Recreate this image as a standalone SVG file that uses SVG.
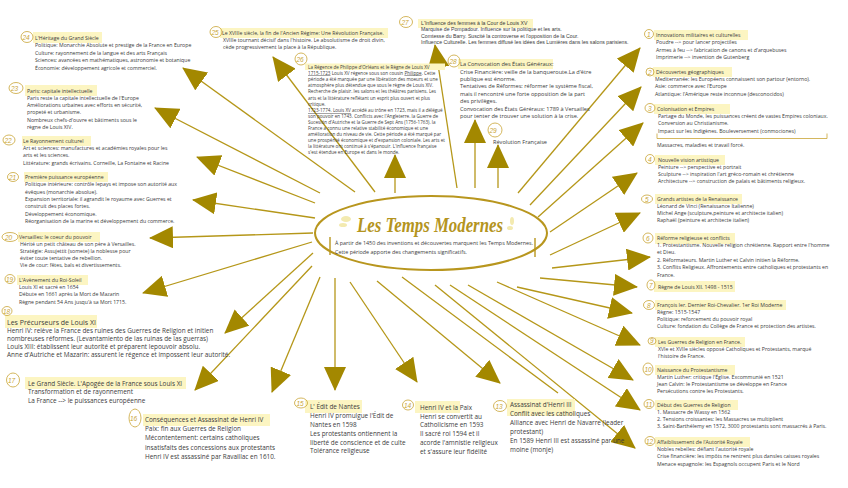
<svg xmlns="http://www.w3.org/2000/svg" width="848" height="488" viewBox="0 0 848 488">
<defs>
<marker id="ah" viewBox="0 0 24 22" refX="23" refY="11" markerWidth="24" markerHeight="22" markerUnits="userSpaceOnUse" orient="auto"><path d="M0,0 L24,11 L0,22 z" fill="#a38800"/></marker>
<style>
.t{font-family:"Open Sans","Noto Sans",sans-serif;fill:#3b3b3b}
.s{font-size:5.2px}
.m{font-size:6.4px}
.a{font-family:"Liberation Sans",Arial,sans-serif;fill:#3b3b3b;font-size:5.2px}
.r{font-size:4.6px}
.hl{fill:#fcf5c2}
.num{fill:none;stroke:#c9a536;stroke-width:0.8}
.nt{font-family:"Liberation Sans",sans-serif;font-style:italic;fill:#c9a536;font-size:6.5px}
.c line{stroke:#b59719;stroke-width:1.3}
.c .ar{marker-end:url(#ah)}
</style>
</defs>
<rect width="848" height="488" fill="#ffffff"/>

<g id="connectors" class="c">
<line class="ar" x1="355" y1="192" x2="183" y2="68"/>
<line class="ar" x1="375" y1="192" x2="273" y2="57"/>
<line class="ar" x1="395" y1="193" x2="395" y2="155"/>
<line class="ar" x1="457" y1="188" x2="435" y2="45"/>
<line class="ar" x1="475" y1="188" x2="475" y2="120"/>
<line class="ar" x1="498" y1="188" x2="498" y2="145"/>
<line class="ar" x1="518" y1="193" x2="640" y2="48"/>
<line class="ar" x1="530" y1="205" x2="641" y2="87"/>
<line class="ar" x1="538" y1="217" x2="643" y2="123"/>
<line class="ar" x1="550" y1="232" x2="637" y2="173"/>
<line class="ar" x1="550" y1="255" x2="640" y2="213"/>
<line class="ar" x1="552" y1="268" x2="650" y2="257"/>
<line class="ar" x1="540" y1="278" x2="637" y2="287"/>
<line class="ar" x1="517" y1="287" x2="632" y2="313"/>
<line class="ar" x1="497" y1="282" x2="640" y2="345"/>
<line class="ar" x1="468" y1="285" x2="633" y2="380"/>
<line class="ar" x1="450" y1="285" x2="640" y2="410"/>
<line class="ar" x1="435" y1="285" x2="635" y2="448"/>
<line x1="402" y1="277" x2="558" y2="393"/>
<line class="ar" x1="377" y1="281" x2="500" y2="383"/>
<line class="ar" x1="350" y1="282" x2="417" y2="382"/>
<line class="ar" x1="335" y1="278" x2="335" y2="390"/>
<line class="ar" x1="320" y1="277" x2="272" y2="392"/>
<line class="ar" x1="312" y1="266" x2="195" y2="390"/>
<line class="ar" x1="313" y1="253" x2="225" y2="333"/>
<line class="ar" x1="312" y1="242" x2="143" y2="293"/>
<line class="ar" x1="313" y1="233" x2="150" y2="238"/>
<line class="ar" x1="315" y1="218" x2="193" y2="200"/>
<line class="ar" x1="315" y1="203" x2="197" y2="157"/>
<line class="ar" x1="320" y1="193" x2="155" y2="108"/>
</g>

<g id="center">
<ellipse cx="431" cy="233" rx="116" ry="37" fill="#ffffff" stroke="#b8961e" stroke-width="2"/>
<ellipse cx="346" cy="219" rx="5" ry="3" fill="#f3eab0"/>
<ellipse cx="343" cy="225" rx="4" ry="2" fill="#f3eab0"/>
<ellipse cx="512" cy="221" rx="2" ry="4" fill="#f3eab0"/>
<ellipse cx="510" cy="228" rx="3" ry="2" fill="#f3eab0"/>
<text x="357" y="232" font-family="Liberation Serif,serif" font-style="italic" font-weight="bold" font-size="20" fill="#b49420" textLength="146" lengthAdjust="spacingAndGlyphs">Les Temps Modernes</text>
<line x1="330" y1="237" x2="330" y2="255" stroke="#b8961e" stroke-width="1.4"/>
<line x1="535" y1="238" x2="535" y2="257" stroke="#b8961e" stroke-width="1.4"/>
<text class="t" x="335" y="245" font-size="5.4">À partir de 1450 des inventions et découvertes marquent les Temps Modernes.</text>
<text class="t" x="335" y="253.5" font-size="5.4">Cette période apporte des changements significatifs.</text>
</g>

<g id="n24">
<rect class="hl" x="33" y="32" width="69" height="11"/>
<ellipse class="num" cx="27" cy="37" rx="6" ry="5.5"/><text class="nt" x="22.5" y="39.5">24</text>
<text class="t s" x="35" y="40" font-size="5.6">L'Héritage du Grand Siècle</text>
<text class="t s" x="35" y="47">Politique: Monarchie Absolute et prestige de la France en Europe</text>
<text class="t s" x="35" y="54.5">Culture: rayonnement de la langue et des arts Français</text>
<text class="t s" x="35" y="62">Sciences: avancées en mathématiques, astronomie et botanique</text>
<text class="t s" x="35" y="69.5">Économie: développement agricole et commerciel.</text>
</g>

<g id="n23">
<rect class="hl" x="25" y="85" width="72" height="11"/>
<ellipse class="num" cx="16" cy="88" rx="7" ry="5.5"/><text class="nt" x="11" y="90.5">23</text>
<text class="t s" x="27" y="92.5" font-size="5.6">Paris: capitale intellectuelle</text>
<text class="t s" x="27" y="99.5">Paris reste la  capitale intellectuelle de l'Europe</text>
<text class="t s" x="27" y="107">Améliorations urbaines avec efforts en sécurité,</text>
<text class="t s" x="27" y="114">propeté et urbanisme.</text>
<text class="t s" x="27" y="121.5">Nombreux chefs-d'ouvre et bâtiments sous le</text>
<text class="t s" x="27" y="129">règne de Louis XIV.</text>
</g>

<g id="n22">
<rect class="hl" x="22" y="136" width="69" height="10"/>
<ellipse class="num" cx="9" cy="140" rx="6" ry="5"/><text class="nt" x="4.5" y="142.5">22</text>
<text class="t s" x="23" y="143" font-size="5.6">Le Rayonnement culturel</text>
<text class="t s" x="23" y="149.5">Art et sciences: manufactures et académies royales pour les</text>
<text class="t s" x="23" y="157">arts et les sciences.</text>
<text class="t s" x="23" y="164.5">Littérature: grands écrivains. Corneille, La Fontaine et Racine</text>
</g>

<g id="n21">
<rect class="hl" x="24" y="172" width="84" height="10"/>
<ellipse class="num" cx="13" cy="177" rx="5.5" ry="4.5"/><text class="nt" x="9" y="179.5">21</text>
<text class="t s" x="25" y="178.5" font-size="5.6">Première puissance européenne</text>
<text class="t s" x="25" y="186">Politique intérieure: contrôle lepays et impose son autorité aux</text>
<text class="t s" x="25" y="193.5">évêques (monarchie absolue).</text>
<text class="t s" x="25" y="201">Expansion territoriale: il agrandit le royaume avec Guerres et</text>
<text class="t s" x="25" y="208">construit des places fortes.</text>
<text class="t s" x="25" y="215.5">Développement économique.</text>
<text class="t s" x="25" y="223">Réorganisation de la marine et développement du commerce.</text>
</g>

<g id="n20">
<rect class="hl" x="18" y="232" width="82" height="10"/>
<ellipse class="num" cx="10" cy="237" rx="8" ry="4.5"/><text class="nt" x="5" y="239.5">20</text>
<text class="t s" x="19" y="238.5" font-size="5.6">Versailles: le coeur du pouvoir</text>
<text class="t s" x="20" y="245.5">Hérité un petit château de son père à Versailles.</text>
<text class="t s" x="20" y="252.5">Stratégie: Assujettit (somete) la noblesse pour</text>
<text class="t s" x="20" y="260">éviter toute tentative de rebellion.</text>
<text class="t s" x="20" y="267">Vie de cour: fêtes, bals et divertissements.</text>
</g>

<g id="n19">
<rect class="hl" x="17" y="275" width="71" height="10"/>
<ellipse class="num" cx="10" cy="279" rx="5" ry="4.5"/><text class="nt" x="6" y="281.5">19</text>
<text class="t s" x="19" y="281.5" font-size="5.6">L'Avènement du Roi-Soleil</text>
<text class="t s" x="19" y="289">Louis XI et sacré en 1654</text>
<text class="t s" x="19" y="296">Débute en 1661 après la Mort de Mazarin</text>
<text class="t s" x="19" y="303.5">Règne pendant 54 Ans jusqu'à sa Mort 1715.</text>
</g>

<g id="n18">
<rect class="hl" x="5" y="315" width="92" height="13"/>
<ellipse class="num" cx="7" cy="311" rx="5" ry="4.5"/><text class="nt" x="3" y="313.5">18</text>
<text class="t" x="7" y="324.5" font-size="7">Les Précurseurs de Louis XI</text>
<text class="t m" x="7" y="333" font-size="6.6">Henri IV: relève la France  des ruines des Guerres de Religion et initien</text>
<text class="t m" x="7" y="341" font-size="6.6">nombreuses réformes. (Levantamiento de las ruinas de las guerras)</text>
<text class="t m" x="7" y="349" font-size="6.6">Louis XIII: établissent leur autorité et préparent lepouvoir absolu.</text>
<text class="t m" x="7" y="357" font-size="6.6">Anne d'Autriche et Mazarin: assurent le  régence et impossent leur autorité.</text>
</g>

<g id="n17">
<rect class="hl" x="25" y="377" width="161" height="12"/>
<ellipse class="num" cx="13" cy="380" rx="6.5" ry="7"/><text class="nt" x="8" y="383" font-size="7.5">17</text>
<text class="t m" x="28" y="385.5">Le Grand Siècle. L'Apogée de la France sous Louis XI</text>
<text class="t m" x="28" y="394">Transformation et de rayonnement</text>
<text class="t m" x="28" y="403">La France --&gt; le puissances européenne</text>
</g>

<g id="n16">
<rect class="hl" x="143" y="414" width="127" height="12"/>
<ellipse class="num" cx="135" cy="418" rx="6" ry="9"/><text class="nt" x="130" y="421" font-size="7.5">16</text>
<text class="t m" x="145" y="422">Conséquences et Assassinat de Henri IV</text>
<text class="t m" x="145" y="431">Paix: fin aux Guerres de Religion</text>
<text class="t m" x="145" y="440">Mécontentement: certains catholiques</text>
<text class="t m" x="145" y="449.5">insatisfaits des concessions aux protestants</text>
<text class="t m" x="145" y="458.5">Henri IV est assassiné par Ravaillac en 1610.</text>
</g>

<g id="n15">
<rect class="hl" x="305" y="400" width="57" height="13"/>
<ellipse class="num" cx="301" cy="403" rx="6.5" ry="5"/><text class="nt" x="296.5" y="405.5">15</text>
<text class="t m" x="310" y="409">L' Édit de Nantes</text>
<text class="t m" x="310" y="417.5">Henri IV promulgue l'Édit de</text>
<text class="t m" x="310" y="426.5">Nantes en 1598</text>
<text class="t m" x="310" y="435.5">Les protestants ontiennent la</text>
<text class="t m" x="310" y="444.5">liberté de conscience et de culte</text>
<text class="t m" x="310" y="453">Tolérance religieuse</text>
</g>

<g id="n14">
<rect class="hl" x="415" y="401" width="45" height="12"/>
<ellipse class="num" cx="408" cy="405" rx="5.5" ry="5"/><text class="nt" x="404" y="407.5">14</text>
<text class="t m" x="420" y="410">Henri IV et la Paix</text>
<text class="t m" x="420" y="418.5">Henri se convertit au</text>
<text class="t m" x="420" y="427">Catholicisme en 1593</text>
<text class="t m" x="420" y="436">Il sacré roi 1594 et il</text>
<text class="t m" x="420" y="445">acorde l'amnistie religieux</text>
<text class="t m" x="420" y="453.5">et s'assure leur fidélité</text>
</g>

<g id="n13">
<rect class="hl" x="507" y="399" width="68" height="17"/>
<ellipse class="num" cx="500" cy="406" rx="6.5" ry="5.5"/><text class="nt" x="495.5" y="408.5">13</text>
<text class="t m" x="510" y="407">Assassinat d'Henri III</text>
<text class="t m" x="510" y="416">Conflit avec les catholiques</text>
<text class="t m" x="510" y="425">Alliance avec Henri de Navarre (leader</text>
<text class="t m" x="510" y="433.5">protestant)</text>
<text class="t m" x="510" y="442.5">En 1589 Henri III est assassiné par une</text>
<text class="t m" x="510" y="451.5">moine (monje)</text>
</g>

<g id="n1">
<rect class="hl" x="654" y="30" width="94" height="10"/>
<ellipse class="num" cx="649" cy="34" rx="4.5" ry="4.5"/><text class="nt" x="647" y="36.5" font-size="6">1</text>
<text class="t s" x="656" y="36.5">Innovations militaires et culturelles</text>
<text class="t s" x="656" y="44">Poudre --&gt; pour lancer projectiles</text>
<text class="t s" x="656" y="51.5">Armes à feu --&gt; fabrication de canons et d'arquebuses</text>
<text class="t s" x="656" y="59">Imprimerie --&gt; invention de Gutenberg</text>
</g>

<g id="n2">
<rect class="hl" x="653" y="67" width="79" height="10"/>
<ellipse class="num" cx="650" cy="72" rx="4" ry="4"/><text class="nt" x="648" y="74.5" font-size="6">2</text>
<text class="t s" x="656" y="73.5">Découvertes géographiques</text>
<text class="t s" x="655" y="81">Mediterranée: les Européens connaissent son partour (entorno).</text>
<text class="t s" x="655" y="88">Asie: commerce avec l'Europe</text>
<text class="t s" x="655" y="95.5">Atlantique: l'Amérique reste inconnue (desconocidos)</text>
</g>

<g id="n3">
<rect class="hl" x="654" y="104" width="76" height="10"/>
<ellipse class="num" cx="650" cy="108" rx="5" ry="4.5"/><text class="nt" x="648" y="110.5" font-size="6">3</text>
<text class="t s" x="657" y="110.5">Colonisation et Empires</text>
<text class="t s" x="658" y="118">Partage du Monde, les puissances créent de vastes Empires coloniaux.</text>
<text class="t s" x="658" y="125">Conversion au Christianisme.</text>
<text class="t s" x="658" y="132.5">Impact sur les Indigènes. Bouleversement (conmociones)</text>
<path d="M657,133.5 V138.5 H827 V133.5" fill="none" stroke="#c9a536" stroke-width="0.8"/>
<text class="t s" x="657" y="147">Massacres, maladies et travail forcé.</text>
</g>

<g id="n4">
<rect class="hl" x="655" y="155" width="70" height="10"/>
<ellipse class="num" cx="650" cy="159" rx="4.5" ry="4.5"/><text class="nt" x="648" y="161.5" font-size="6">4</text>
<text class="t s" x="658" y="161.5">Nouvelle vision artistique</text>
<text class="t s" x="658" y="168.5">Peinture --&gt; perspective et portrait</text>
<text class="t s" x="658" y="175.5">Sculpture --&gt; inspiration l'art gréco-romain et chrétienne</text>
<text class="t s" x="658" y="183">Architecture --&gt; construction de palais et bâtiments religieux.</text>
</g>

<g id="n5">
<rect class="hl" x="655" y="194" width="87" height="10"/>
<ellipse class="num" cx="647" cy="199" rx="5.5" ry="4"/><text class="nt" x="645" y="201.5" font-size="6">5</text>
<text class="t s" x="657" y="200.5">Grands artistes de la Renaissance</text>
<text class="t s" x="657" y="207.5">Léonard de Vinci (Renaissance Italienne)</text>
<text class="t s" x="657" y="214.5">Michel Ange (sculpture,peinture et architecte italien)</text>
<text class="t s" x="657" y="222">Raphaël (peinture et architecte italien)</text>
</g>

<g id="n6">
<rect class="hl" x="655" y="233" width="80" height="11"/>
<ellipse class="num" cx="648" cy="238" rx="5" ry="5"/><text class="nt" x="646" y="240.5" font-size="6">6</text>
<text class="t s" x="657" y="239.5">Réforme religieuse et conflicts</text>
<text class="t s" x="657" y="246.5">1. Protestantisme. Nouvelle religion chrétienne. Rapport entre l'homme</text>
<text class="t s" x="657" y="254">et Dieu.</text>
<text class="t s" x="657" y="261.5">2. Réformateurs. Martin Luther et Calvin initien la Réforme.</text>
<text class="t s" x="657" y="269">3. Conflits Religieux. Affrontements entre catholiques et protestants en</text>
<text class="t s" x="657" y="276.5">France.</text>
</g>

<g id="n7">
<rect class="hl" x="654" y="281" width="81" height="11"/>
<ellipse class="num" cx="651" cy="285" rx="4" ry="5"/><text class="nt" x="649" y="287.5" font-size="6">7</text>
<text class="t s" x="658" y="289">Règne de Louis XII. 1498 - 1515</text>
</g>

<g id="n8">
<rect class="hl" x="655" y="300" width="131" height="10"/>
<ellipse class="num" cx="649" cy="305" rx="5.5" ry="4.5"/><text class="nt" x="647" y="307.5" font-size="6">8</text>
<text class="t s" x="657" y="306.5">François Ier. Dernier Roi-Chevalier. 1er Roi Moderne</text>
<text class="t s" x="657" y="313.5">Règne: 1515-1547</text>
<text class="t s" x="657" y="320.5">Politique: reforcement du pouvoir royal</text>
<text class="t s" x="657" y="328">Culture: fondation du Collège de France et protection des artistes.</text>
</g>

<g id="n9">
<rect class="hl" x="655" y="337" width="90" height="10"/>
<ellipse class="num" cx="652" cy="341" rx="4" ry="3.5"/><text class="nt" x="650" y="343" font-size="5">9</text>
<text class="t s" x="658" y="343.5">Les Guerres de Religion en France.</text>
<text class="t s" x="658" y="350.5">XVIe et XVIIe siècles opposé Catholiques et Protestants, marqué</text>
<text class="t s" x="658" y="357.5">l'histoire de France.</text>
</g>

<g id="n10">
<rect class="hl" x="655" y="365" width="80" height="10"/>
<ellipse class="num" cx="648" cy="369" rx="5" ry="6"/><text class="nt" x="644.5" y="371.5" font-size="6">10</text>
<text class="t s" x="657" y="371.5">Naissance du Protestantisme</text>
<text class="t s" x="657" y="378.5">Martin Luther: critique l'Église. Excommunié en 1521</text>
<text class="t s" x="657" y="385.5">Jean Calvin: le Protestantisme se développe  en France</text>
<text class="t s" x="657" y="393">Persécutions contre les Protestants.</text>
</g>

<g id="n11">
<rect class="hl" x="655" y="400" width="83" height="10"/>
<ellipse class="num" cx="649" cy="404" rx="5" ry="4.5"/><text class="nt" x="645.5" y="406.5" font-size="6">11</text>
<text class="t s" x="657" y="406.5">Début des Guerres de Religion</text>
<text class="t s" x="657" y="413.5">1. Massacre de Wassy en 1562</text>
<text class="t s" x="657" y="420.5">2. Tensions croissantes: les  Massacres se multiplient</text>
<text class="t s" x="657" y="428">3. Saint-Barthélemy en 1572, 3000 protestants sont massacrés à Paris.</text>
</g>

<g id="n12">
<rect class="hl" x="655" y="437" width="95" height="10"/>
<ellipse class="num" cx="650" cy="441" rx="5" ry="4.5"/><text class="nt" x="646" y="443.5" font-size="6">12</text>
<text class="t s" x="657" y="443.5">Affaiblissement de l'Autorité Royale</text>
<text class="t s" x="657" y="450.5">Nobles rebelles: défiant l'autorité royale</text>
<text class="t s" x="657" y="458">Crise financière: les impôts ne rentrent plus dansles caisses royales</text>
<text class="t s" x="657" y="465.5">Menace espagnole: les Espagnols occupent Paris et le Nord</text>
</g>

<g id="n25">
<rect class="hl" x="220" y="28" width="168" height="10"/>
<ellipse class="num" cx="216" cy="32" rx="6" ry="5.5"/><text class="nt" x="211.5" y="34.5">25</text>
<text class="t s" x="222" y="34.5">Le XVIIIe siècle, la fin de l'Ancien Régime: Une Révolution Française.</text>
<text class="t s" x="223" y="41.5">XVIIIe tournant décisif dans l'histoire. Le absolutisme de droit divin,</text>
<text class="t s" x="223" y="49">cède progressivement la place à la République.</text>
</g>

<g id="n26">
<rect class="hl" x="305" y="63.5" width="140" height="6.5"/>
<ellipse class="num" cx="301" cy="59" rx="6" ry="6"/><text class="nt" x="296.5" y="61.5">26</text>
<text class="t r" x="308" y="68.5">La Régence de Philippe d'Orléans et le Règne de Louis XV</text>
<text class="t r" x="308" y="74.5"><tspan text-decoration="underline">1715-1723</tspan> Louis XV régence sous son cousin <tspan text-decoration="underline">Philippe</tspan>. Cette</text>
<text class="t r" x="308" y="81">période a été marquée par une libération des moeurs et une</text>
<text class="t r" x="308" y="87">atmosphère plus détendue que sous le règne de Louis XIV.</text>
<text class="t r" x="308" y="93">Recherche de plaisir. les salons et les théâtres parisiens.  Les</text>
<text class="t r" x="308" y="99.5">arts et la littérature reflétant un esprit plus ouvert et plus</text>
<text class="t r" x="308" y="106">critique.</text>
<text class="t r" x="308" y="112"><tspan text-decoration="underline">1723-1774. Louis XV</tspan> accédé au trône en 1723, mais il a délégué</text>
<text class="t r" x="308" y="118">son pouvoir en 1743. Conflicts avec l'Angleterre. la Guerre de</text>
<text class="t r" x="308" y="124">Sucesión d'Autriche et la Guerre de Sept Ans (1756-1763).  la</text>
<text class="t r" x="308" y="129.5">France a connu une relative stabilité économique et une</text>
<text class="t r" x="308" y="135.5">amélioration du  niveau de vie. Cette période a été marqué par</text>
<text class="t r" x="308" y="141.5">une prospérité économique et d'expansion coloniale. Les arts et</text>
<text class="t r" x="308" y="147.5">la littérature ont continué à s'épanouir. L'influence française</text>
<text class="t r" x="308" y="153.5">s'est étendue en Europe et dans le monde.</text>
</g>

<g id="n27">
<rect class="hl" x="418" y="19" width="115" height="9"/>
<ellipse class="num" cx="406" cy="22" rx="6.5" ry="5.5"/><text class="nt" x="401.5" y="24.5">27</text>
<text class="a" x="421" y="25">L'Influence des femmes à la Cour de Louis XV</text>
<text class="a" x="421" y="31">Marquise de Pompadour. Influence sur la politique et les arts.</text>
<text class="a" x="421" y="37.5">Comtesse du Barry. Suscité la controverse et l'opposition de la Cour.</text>
<text class="a" x="421" y="43.5">Influence Culturelle. Les femmes diffusé les  idées des Lumières dans les salons parisiens.</text>
</g>

<g id="n28">
<rect class="hl" x="458" y="59" width="95" height="10"/>
<ellipse class="num" cx="454" cy="61" rx="6" ry="6"/><text class="nt" x="449.5" y="63.5">28</text>
<text class="t" x="460" y="65.5" font-size="5.6">La Convocation des États Généraux:</text>
<text class="t" x="460" y="74" font-size="5.6">Crise Financière: veille de la banqueroute.La d'être</text>
<text class="t" x="460" y="81" font-size="5.6">publique est énorme.</text>
<text class="t" x="460" y="88" font-size="5.6">Tentatives de Réformes: réformer le système fiscal,</text>
<text class="t" x="460" y="95.5" font-size="5.6">mais il  rencontré une forte opposition de la part</text>
<text class="t" x="460" y="103" font-size="5.6">des privilèges.</text>
<text class="t" x="460" y="110.5" font-size="5.6">Convocation des États Géréraux: 1789 à Versailles</text>
<text class="t" x="460" y="118" font-size="5.6">pour tenter de trouver une solution à la crise.</text>
</g>

<g id="n29">
<ellipse class="num" cx="495" cy="130" rx="7" ry="7"/><text class="nt" x="489.5" y="133" font-size="7.5">29</text>
<text class="t" x="493" y="144" font-size="5.6">Révolution Française</text>
</g>
</svg>
